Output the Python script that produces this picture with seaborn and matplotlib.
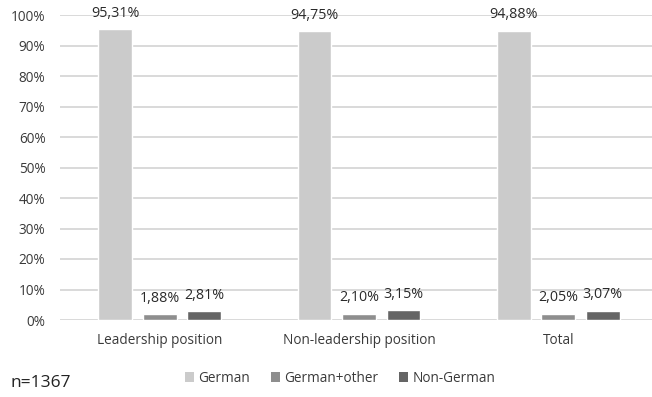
import matplotlib
matplotlib.use("Agg")
import matplotlib.pyplot as plt
import seaborn as sns
import pandas as pd
from matplotlib.patches import Patch

categories = ["Leadership position", "Non-leadership position", "Total"]
series = ["German", "German+other", "Non-German"]
german = [95.31, 94.75, 94.88]
german_other = [1.88, 2.10, 2.05]
non_german = [2.81, 3.15, 3.07]
yticks = [0, 10, 20, 30, 40, 50, 60, 70, 80, 90, 100]
colors = ["#cbcbcb", "#8e8e8e", "#656565"]

rows = []
for name, vals in zip(series, [german, german_other, non_german]):
    for cat, v in zip(categories, vals):
        rows.append({"category": cat, "series": name, "value": v})
df = pd.DataFrame(rows)

sns.set_style("white")
plt.rcParams["font.family"] = ["Open Sans", "DejaVu Sans"]

fig = plt.figure(figsize=(6.52, 3.97), dpi=100)
ax = fig.add_axes([60 / 652, 1 - 320 / 397, 598 / 652, 305 / 397])

sns.barplot(data=df, x="category", y="value", hue="series", hue_order=series,
            order=categories, palette=colors, width=0.67, gap=0.24,
            saturation=1, ax=ax, legend=False, zorder=3)

for container in ax.containers:
    labels = [f"{v:.2f}".replace(".", ",") + "%" for v in container.datavalues]
    ax.bar_label(container, labels=labels, padding=6, fontsize=10.3, color="#2a2a2a")

ax.set_ylim(0, 100)
ax.set_xlim(-0.5, 2.5)
ax.set_yticks(yticks)
ax.set_yticklabels([f"{t}%" for t in yticks])
ax.yaxis.grid(True, color="#d9d9d9", linewidth=1.4, zorder=0)
ax.set_axisbelow(True)
for s in ax.spines.values():
    s.set_visible(False)
ax.tick_params(axis="both", length=0, labelsize=9.8, colors="#3a3a3a")
ax.tick_params(axis="y", pad=10.5)
ax.tick_params(axis="x", pad=9)
ax.set_xlabel("")
ax.set_ylabel("")

handles = [Patch(facecolor=c, edgecolor="none") for c in colors]
fig.legend(handles, series, loc="center", bbox_to_anchor=(340 / 652, 1 - 378 / 397),
           ncol=3, frameon=False, fontsize=9.8, handlelength=0.7, handleheight=0.7,
           handletextpad=0.3, columnspacing=1.5, labelcolor="#3a3a3a")

fig.text(10 / 652, 1 - 383 / 397, "n=1367", fontsize=12.5, color="#222222", va="center")

fig.savefig("out.png", dpi=100)
